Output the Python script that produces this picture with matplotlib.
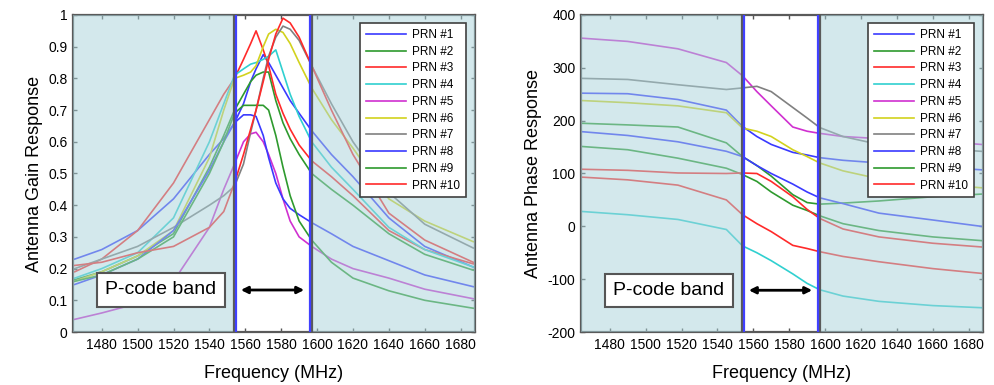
import matplotlib
matplotlib.use("Agg")
import matplotlib.pyplot as plt
from matplotlib.patches import Rectangle

plt.rcParams['font.family'] = ['Liberation Sans', 'DejaVu Sans']

# frequencies (MHz) for the gain curves
f_gain = [1465, 1480, 1500, 1520, 1540, 1548, 1554, 1559, 1563, 1566, 1570,
          1573, 1577, 1581, 1585, 1590, 1597, 1608, 1620, 1640, 1660, 1687]

gain = {
    "PRN #1":  [0.23, 0.26, 0.32, 0.42, 0.56, 0.61, 0.66, 0.72, 0.79, 0.83, 0.875,
                0.85, 0.81, 0.77, 0.73, 0.69, 0.635, 0.56, 0.49, 0.36, 0.27, 0.205],
    "PRN #2":  [0.165, 0.19, 0.24, 0.31, 0.52, 0.62, 0.70, 0.75, 0.79, 0.81, 0.82,
                0.82, 0.73, 0.66, 0.61, 0.56, 0.50, 0.45, 0.40, 0.31, 0.245, 0.195],
    "PRN #3":  [0.19, 0.23, 0.32, 0.47, 0.67, 0.75, 0.80, 0.86, 0.91, 0.95, 0.89,
                0.84, 0.75, 0.69, 0.64, 0.59, 0.54, 0.49, 0.43, 0.32, 0.26, 0.215],
    "PRN #4":  [0.17, 0.20, 0.25, 0.36, 0.60, 0.72, 0.81, 0.83, 0.845, 0.85, 0.86,
                0.87, 0.89, 0.82, 0.75, 0.68, 0.60, 0.52, 0.45, 0.33, 0.26, 0.205],
    "PRN #5":  [0.04, 0.06, 0.09, 0.16, 0.33, 0.45, 0.53, 0.60, 0.625, 0.63, 0.60,
                0.56, 0.50, 0.42, 0.35, 0.30, 0.27, 0.23, 0.20, 0.17, 0.135, 0.105],
    "PRN #6":  [0.16, 0.19, 0.24, 0.32, 0.55, 0.70, 0.80, 0.81, 0.82, 0.84, 0.90,
                0.94, 0.955, 0.945, 0.91, 0.85, 0.77, 0.67, 0.58, 0.42, 0.35, 0.285],
    "PRN #7":  [0.20, 0.23, 0.27, 0.33, 0.40, 0.43, 0.46, 0.53, 0.63, 0.70, 0.80,
                0.87, 0.93, 0.965, 0.955, 0.92, 0.84, 0.72, 0.60, 0.44, 0.34, 0.265],
    "PRN #8":  [0.15, 0.18, 0.23, 0.32, 0.51, 0.60, 0.66, 0.685, 0.685, 0.68, 0.62,
                0.55, 0.47, 0.42, 0.39, 0.37, 0.345, 0.31, 0.27, 0.225, 0.18, 0.143],
    "PRN #9":  [0.16, 0.18, 0.23, 0.30, 0.50, 0.60, 0.69, 0.715, 0.715, 0.715, 0.715,
                0.70, 0.62, 0.52, 0.43, 0.35, 0.29, 0.22, 0.17, 0.13, 0.10, 0.075],
    "PRN #10": [0.21, 0.22, 0.25, 0.27, 0.33, 0.38, 0.47, 0.56, 0.64, 0.70, 0.79,
                0.86, 0.94, 0.99, 0.975, 0.93, 0.84, 0.70, 0.56, 0.375, 0.29, 0.22],
}

# frequencies (MHz) for the phase curves
f_phase = [1465, 1490, 1518, 1545, 1554, 1562, 1570, 1582, 1590, 1597, 1610, 1630, 1660, 1687]

phase = {
    "PRN #1":  [252, 251, 240, 220, 189, 170, 155, 140, 135, 130, 125, 120, 113, 107],
    "PRN #2":  [195, 192, 188, 158, 132, 115, 95, 60, 45, 42, 44, 48, 56, 61],
    "PRN #3":  [93, 88, 78, 50, 22, 5, -10, -36, -42, -48, -57, -67, -80, -89],
    "PRN #4":  [28, 22, 13, -6, -37, -50, -65, -90, -108, -120, -132, -142, -150, -154],
    "PRN #5":  [356, 350, 336, 310, 285, 255, 228, 188, 180, 176, 170, 166, 162, 155],
    "PRN #6":  [238, 234, 228, 215, 186, 180, 170, 145, 132, 120, 105, 90, 80, 73],
    "PRN #7":  [280, 278, 268, 259, 262, 265, 255, 225, 205, 187, 170, 155, 148, 142],
    "PRN #8":  [179, 172, 160, 142, 132, 115, 100, 80, 65, 54, 43, 25, 12, 0],
    "PRN #9":  [151, 145, 129, 110, 98, 85, 65, 40, 30, 20, 5, -8, -20, -27],
    "PRN #10": [108, 106, 101, 100, 101, 100, 85, 56, 32, 15, -5, -20, -32, -39],
}

colores = ['#3a3aff', '#2e9a2e', '#ff2a2a', '#30d0d0', '#d030d0',
           '#d2d21e', '#808080', '#3a3aff', '#2e9a2e', '#ff2a2a']

banda = (1554.96, 1595.88)
xmin, xmax = 1464, 1688


def graficar(ax, f, datos, ylim, yticks, ylabels, ylabel, ytexto):
    for (nombre, vals), c in zip(datos.items(), colores):
        ax.plot(f, vals, color=c, lw=1.2, label=nombre, zorder=2)

    # zonas sombreadas fuera de la banda P
    sombra = dict(facecolor='#a9d3da', alpha=0.5, edgecolor='none', zorder=3)
    ax.add_patch(Rectangle((xmin, ylim[0]), banda[0] - 1.5 - xmin, ylim[1] - ylim[0], **sombra))
    ax.add_patch(Rectangle((banda[1] + 1.5, ylim[0]), xmax - banda[1] - 1.5, ylim[1] - ylim[0], **sombra))
    for x in (banda[0] - 1.5, banda[1] + 1.5):
        ax.axvline(x, color='#5a5a5a', lw=1.6, zorder=4)
    for x in banda:
        ax.axvline(x, color='#4040ff', lw=1.6, zorder=4)

    ax.annotate('', xy=(banda[0] + 1, ytexto), xytext=(banda[1] - 1.5, ytexto),
                arrowprops=dict(arrowstyle='<|-|>', color='black', lw=2,
                                mutation_scale=10), zorder=5)
    ax.text(1513, ytexto, 'P-code band', fontsize=14, ha='center', va='center', zorder=5,
            bbox=dict(boxstyle='square,pad=0.42', fc='white', ec='#555555', lw=1.5))

    ax.set_xlim(xmin, xmax)
    ax.set_ylim(*ylim)
    ax.set_xticks(range(1480, 1681, 20))
    ax.set_yticks(yticks)
    ax.set_yticklabels(ylabels)
    ax.tick_params(direction='in', top=True, right=True, length=3, width=1,
                   color='#555555', labelsize=10, pad=4)
    for s in ax.spines.values():
        s.set_color('#5a5a5a')
        s.set_linewidth(1.6)
    ax.set_xlabel('Frequency (MHz)', fontsize=13, labelpad=10)
    ax.set_ylabel(ylabel, fontsize=13, labelpad=4)

    leg = ax.legend(loc='upper right', bbox_to_anchor=(0.993, 0.993), fontsize=8.5,
                    handlelength=3.4, labelspacing=0.4, borderpad=0.5,
                    handletextpad=0.5, fancybox=False, framealpha=1,
                    edgecolor='#404040')
    leg.get_frame().set_linewidth(1.2)
    leg.set_zorder(6)


fig = plt.figure(figsize=(9.95, 3.85), dpi=100)
ax1 = fig.add_axes([73 / 995, 53 / 385, 402 / 995, 317 / 385])
ax2 = fig.add_axes([581 / 995, 53 / 385, 402 / 995, 317 / 385])

yt1 = [i / 10 for i in range(11)]
graficar(ax1, f_gain, gain, (0, 1), yt1,
         ['0'] + ['%.1f' % v for v in yt1[1:-1]] + ['1'],
         'Antenna Gain Response', 0.1325)

yt2 = list(range(-200, 401, 100))
graficar(ax2, f_phase, phase, (-200, 400), yt2, [str(v) for v in yt2],
         'Antenna Phase Response', -121)

fig.savefig('out.png', dpi=100)
